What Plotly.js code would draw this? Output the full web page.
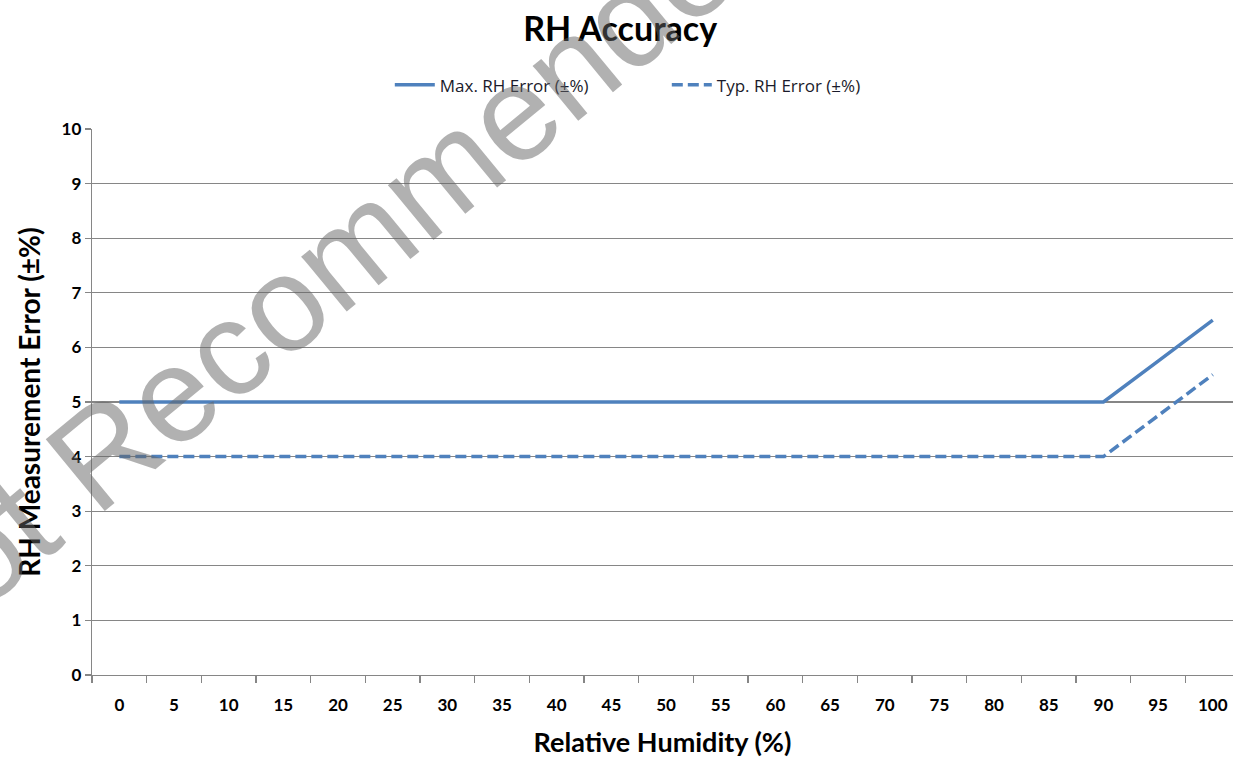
<!DOCTYPE html>
<html>
<head>
<meta charset="utf-8">
<script src="https://cdn.plot.ly/plotly-3.0.1.min.js"></script>
<style>
  html, body { margin: 0; padding: 0; background: #ffffff; }
  #chart { width: 1233px; height: 758px; }
</style>
</head>
<body>
<div id="chart"></div>
<script>
// Relative humidity categories (%)
const rhCategories = ["0","5","10","15","20","25","30","35","40","45","50","55","60","65","70","75","80","85","90","95","100"];
// Max RH error (±%)
const maxError = [5,5,5,5,5,5,5,5,5,5,5,5,5,5,5,5,5,5,5,5.75,6.5];
// Typical RH error (±%)
const typError = [4,4,4,4,4,4,4,4,4,4,4,4,4,4,4,4,4,4,4,4.75,5.5];
const yTickVals = [0,1,2,3,4,5,6,7,8,9,10];

const lineColor = "#4f81bd";
const labelFont = "Lato, 'Open Sans', sans-serif";

const traces = [
  {
    x: rhCategories, y: maxError, type: "scatter", mode: "lines",
    name: "Max. RH Error (±%)",
    line: { color: lineColor, width: 3.5 }
  },
  {
    x: rhCategories, y: typError, type: "scatter", mode: "lines",
    name: "Typ. RH Error (±%)",
    line: { color: lineColor, width: 3.5, dash: "11px,5px" }
  }
];

const layout = {
  width: 1233, height: 758,
  paper_bgcolor: "#ffffff", plot_bgcolor: "#ffffff",
  margin: { l: 92, r: 0, t: 129, b: 83 },
  title: {
    text: "<b>RH Accuracy</b>",
    font: { family: labelFont, size: 34, color: "#000000" },
    x: 0.503, xref: "container", xanchor: "center",
    y: 0.962, yref: "container", yanchor: "middle"
  },
  showlegend: true,
  legend: {
    orientation: "h", x: 0.261, xanchor: "left", y: 1.08, yanchor: "middle",
    font: { family: "'Open Sans', sans-serif", size: 17, color: "#1a1a2a" },
    itemwidth: 40, tracegroupgap: 0, entrywidth: 222
  },
  xaxis: {
    type: "category",
    range: [-0.5, 20.37],
    tickson: "boundaries",
    ticks: "outside", ticklen: 7, tickcolor: "#868686", tickwidth: 1.3,
    showgrid: false, zeroline: false,
    showline: true, linecolor: "#868686", linewidth: 1.3,
    tickfont: { family: labelFont, size: 17, color: "#000000", weight: "bold" },
    ticklabelstandoff: 14,
    title: { text: "<b>Relative Humidity (%)</b>", font: { family: labelFont, size: 27, color: "#000000" }, standoff: 20 },
    fixedrange: true
  },
  yaxis: {
    range: [0, 10],
    tickvals: yTickVals,
    ticktext: yTickVals.map(String),
    ticks: "outside", ticklen: 6, tickcolor: "#868686", tickwidth: 1.3,
    showgrid: true, gridcolor: "#868686", gridwidth: 1.3,
    zeroline: false,
    showline: true, linecolor: "#868686", linewidth: 1.3,
    tickfont: { family: labelFont, size: 17, color: "#000000", weight: "bold" },
    title: { text: "<b>RH Measurement Error (±%)</b>", font: { family: labelFont, size: 28, color: "#000000" }, standoff: 12 },
    fixedrange: true
  },
  annotations: [
    {
      text: "Not Recommended",
      xref: "paper", yref: "paper",
      x: 0.204, y: 0.742, xanchor: "center", yanchor: "middle",
      textangle: -39.5, showarrow: false,
      font: { family: "'Liberation Sans', Arial, sans-serif", size: 135, color: "rgba(100,100,100,0.5)" }
    }
  ]
};

Plotly.newPlot("chart", traces, layout, { displayModeBar: false, staticPlot: true });
</script>
</body>
</html>
